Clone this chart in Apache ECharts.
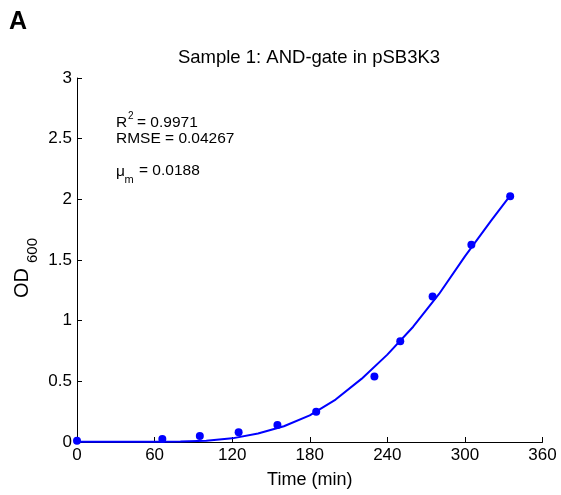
<!DOCTYPE html>
<html>
<head>
<meta charset="utf-8">
<script src="https://cdn.jsdelivr.net/npm/echarts@6/dist/echarts.min.js"></script>
<style>html,body{margin:0;padding:0;background:#fff}#c{width:561px;height:495px}</style>
</head>
<body>
<div id="c"></div>
<script>
// Measured data (Time in min, OD600)
var timeMeasured = [0, 66, 95, 125, 155, 185, 230, 250, 275, 305, 335];
var odMeasured   = [0.01, 0.025, 0.05, 0.08, 0.14, 0.25, 0.54, 0.83, 1.20, 1.625, 2.025];
// Fitted curve
var timeFit = [0, 20, 40, 60, 80, 100, 120, 140, 160, 180, 200, 220, 240, 260, 280, 300, 320, 335];
var odFit   = [0.003, 0.003, 0.003, 0.003, 0.004, 0.01, 0.03, 0.07, 0.13, 0.22, 0.35, 0.52, 0.72, 0.95, 1.22, 1.53, 1.82, 2.03];
var xTicks = [0, 60, 120, 180, 240, 300, 360];
var yTicks = [0, 0.5, 1, 1.5, 2, 2.5, 3];

var FONT = 'Liberation Sans, Arial, sans-serif';
var chart = echarts.init(document.getElementById('c'));
var pts = timeMeasured.map(function (t, i) { return [t, odMeasured[i]]; });
var fit = timeFit.map(function (t, i) { return [t, odFit[i]]; });

chart.setOption({
  animation: false,
  backgroundColor: '#fff',
  grid: { left: 77, right: 18.5, top: 78, bottom: 53 },
  xAxis: {
    type: 'value', min: xTicks[0], max: xTicks[xTicks.length - 1], interval: 60,
    splitLine: { show: false },
    axisLine: { onZero: false, lineStyle: { color: '#000', width: 1 } },
    axisTick: { inside: true, length: 5, lineStyle: { color: '#000' } },
    axisLabel: { color: '#000', fontSize: 17, fontFamily: FONT, margin: 5 },
    name: 'Time (min)', nameLocation: 'middle', nameGap: 29,
    nameTextStyle: { color: '#000', fontSize: 18, fontFamily: FONT }
  },
  yAxis: {
    type: 'value', min: yTicks[0], max: yTicks[yTicks.length - 1], interval: 0.5,
    splitLine: { show: false },
    axisLine: { show: true, onZero: false, lineStyle: { color: '#000', width: 1 } },
    axisTick: { show: true, inside: true, length: 5, lineStyle: { color: '#000' } },
    axisLabel: { color: '#000', fontSize: 17, fontFamily: FONT, margin: 5 }
  },
  series: [
    { type: 'line', data: fit, showSymbol: false, symbol: 'none',
      lineStyle: { color: '#0000ff', width: 2 }, z: 2 },
    { type: 'scatter', data: pts, symbol: 'circle', symbolSize: 8,
      itemStyle: { color: '#0000ff', opacity: 1 }, z: 3 }
  ],
  graphic: [
    { type: 'text', x: 9, y: 10, style: { text: 'A', font: 'bold 25px ' + FONT, fill: '#000' } },
    { type: 'text', x: 309, y: 58, style: { text: 'Sample 1: AND-gate in pSB3K3', font: '18.5px ' + FONT, fill: '#000', textAlign: 'center', textVerticalAlign: 'middle' } },
    { type: 'text', x: 22, y: 298, rotation: Math.PI / 2, style: { text: 'OD', font: '20px ' + FONT, fill: '#000', textAlign: 'left', textVerticalAlign: 'middle' } },
    { type: 'text', x: 33, y: 263, rotation: Math.PI / 2, style: { text: '600', font: '15px ' + FONT, fill: '#000', textAlign: 'left', textVerticalAlign: 'middle' } },
    { type: 'text', x: 116, y: 123, style: { text: 'R', font: '15.5px ' + FONT, fill: '#000', textVerticalAlign: 'middle' } },
    { type: 'text', x: 128, y: 116, style: { text: '2', font: '10px ' + FONT, fill: '#000', textVerticalAlign: 'middle' } },
    { type: 'text', x: 137, y: 123, style: { text: '= 0.9971', font: '15.5px ' + FONT, fill: '#000', textVerticalAlign: 'middle' } },
    { type: 'text', x: 116, y: 139, style: { text: 'RMSE = 0.04267', font: '15.5px ' + FONT, fill: '#000', textVerticalAlign: 'middle' } },
    { type: 'text', x: 116, y: 172, style: { text: '\u03bc', font: '15.5px ' + FONT, fill: '#000', textVerticalAlign: 'middle' } },
    { type: 'text', x: 124.5, y: 180, style: { text: 'm', font: '11px ' + FONT, fill: '#000', textVerticalAlign: 'middle' } },
    { type: 'text', x: 139, y: 171, style: { text: '= 0.0188', font: '15.5px ' + FONT, fill: '#000', textVerticalAlign: 'middle' } }
  ]
});
</script>
</body>
</html>
